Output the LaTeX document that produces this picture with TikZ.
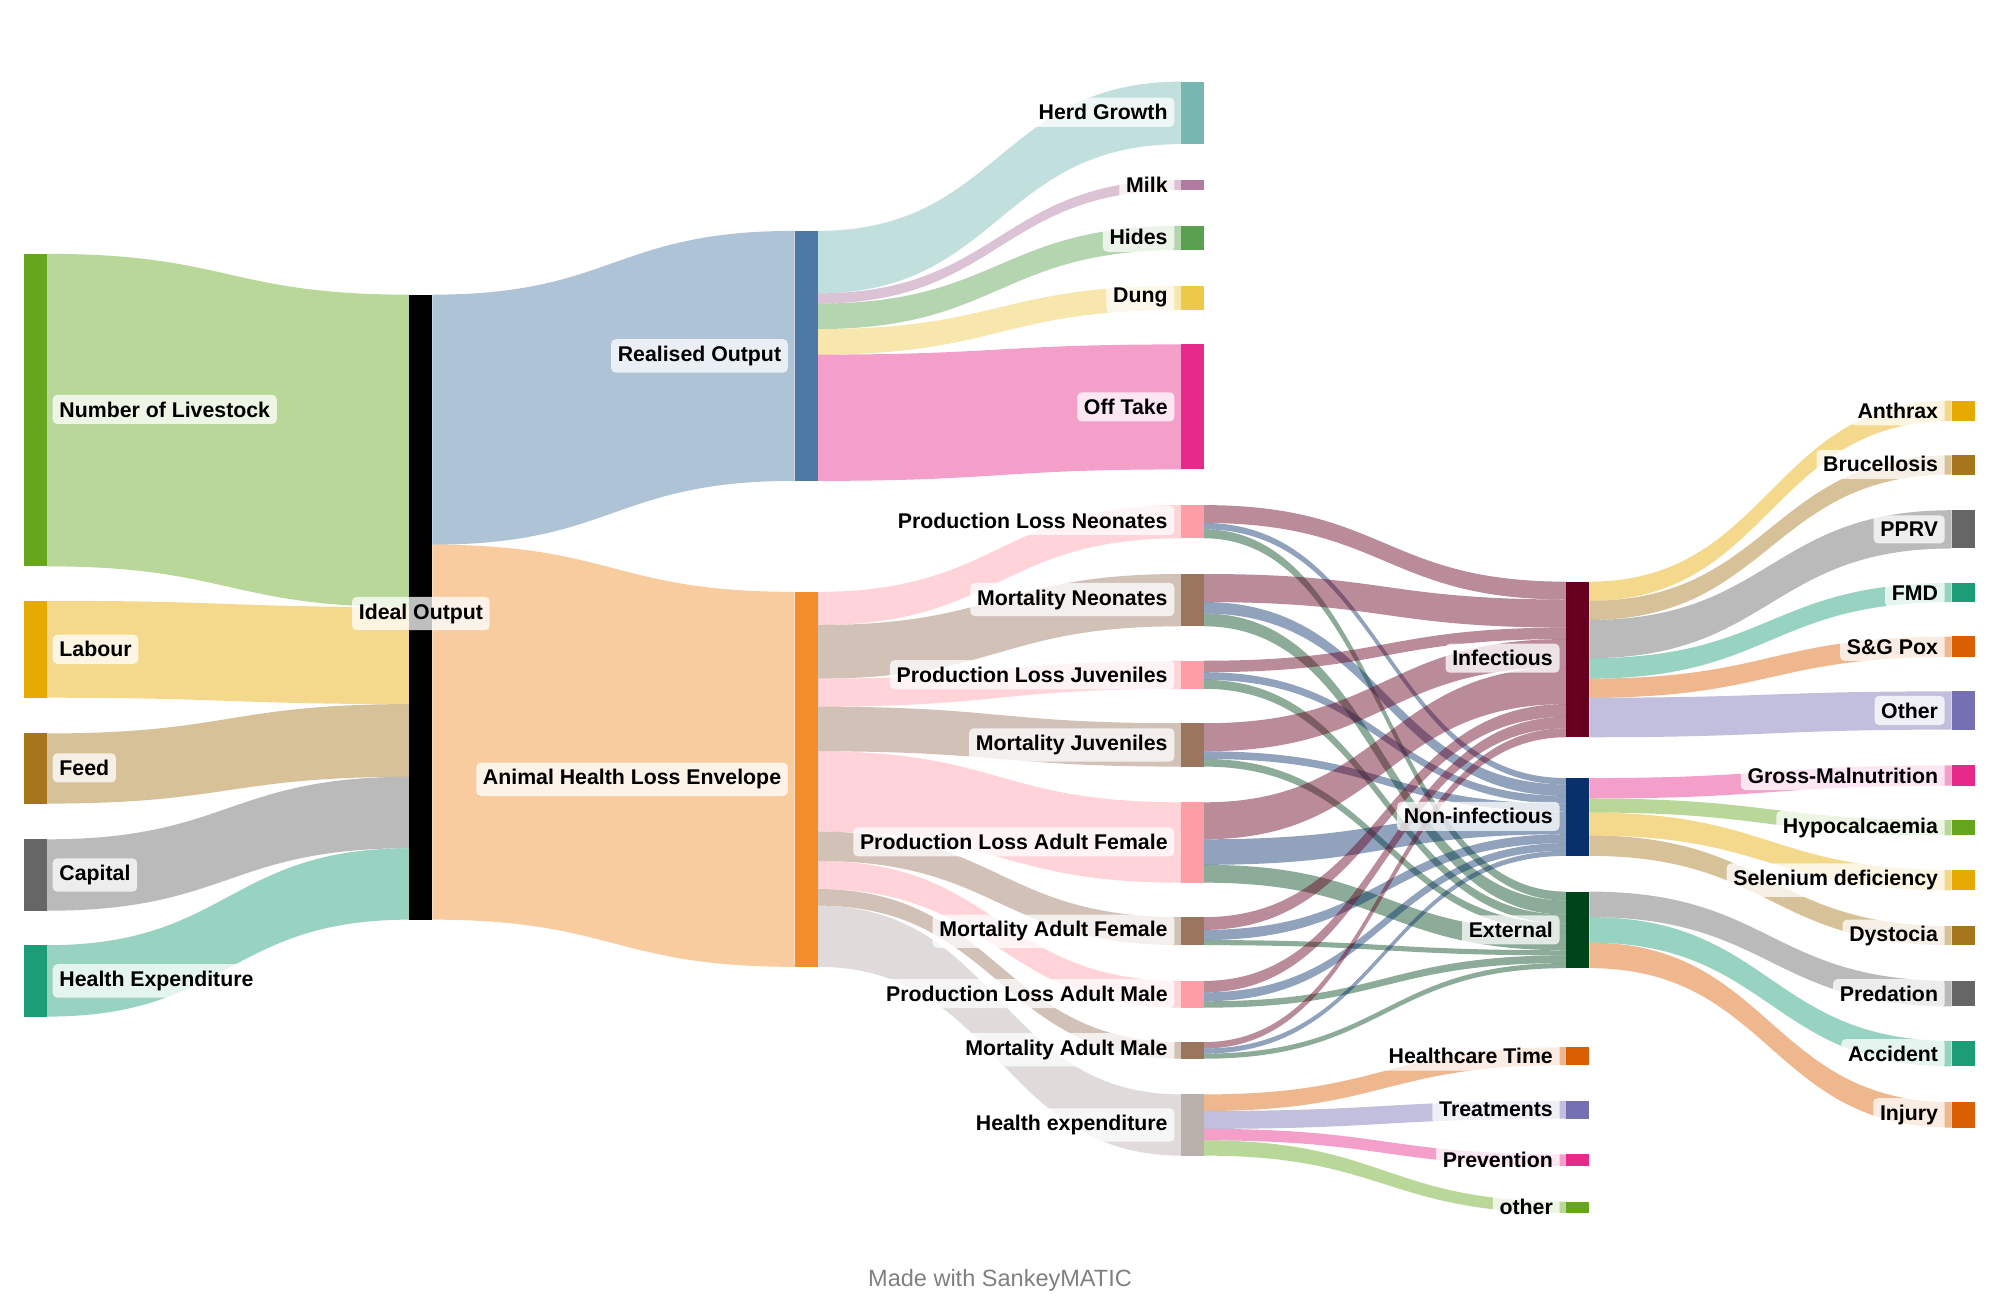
\documentclass[tikz,border=0pt]{standalone}
\usepackage{fontspec}
\setmainfont{Liberation Sans}
\usepackage{xcolor}
\definecolor{cLiv}{HTML}{66A61E}
\definecolor{cLab}{HTML}{E6AB02}
\definecolor{cFeed}{HTML}{A6761D}
\definecolor{cCap}{HTML}{666666}
\definecolor{cHE}{HTML}{1B9E77}
\definecolor{cRO}{HTML}{4E79A7}
\definecolor{cAHLE}{HTML}{F28E2B}
\definecolor{cHG}{HTML}{76B7B2}
\definecolor{cMilk}{HTML}{B07AA1}
\definecolor{cHides}{HTML}{59A14F}
\definecolor{cDung}{HTML}{EDC948}
\definecolor{cOff}{HTML}{E7298A}
\definecolor{cPL}{HTML}{FF9DA7}
\definecolor{cMort}{HTML}{9C755F}
\definecolor{cHx}{HTML}{BAB0AC}
\definecolor{cInf}{HTML}{67001F}
\definecolor{cNI}{HTML}{08306B}
\definecolor{cExt}{HTML}{00441B}
\definecolor{cOr}{HTML}{D95F02}
\definecolor{cPur}{HTML}{7570B3}

\tikzset{
  flowfill/.style={fill opacity=0.45},
  lbl/.style={fill=white, fill opacity=0.75, text opacity=1, rounded corners=2pt,
    inner sep=3pt, font=\fontsize{9.5}{11}\selectfont\bfseries},
}
% band between two bars
\newcommand{\flow}[7]{\fill[#7,flowfill] (#1,#2) .. controls ({(#1+#4)/2},#2) and ({(#1+#4)/2},#5) .. (#4,#5)
  -- (#4,#6) .. controls ({(#1+#4)/2},#6) and ({(#1+#4)/2},#3) .. (#1,#3) -- cycle;}

\begin{document}
\begin{tikzpicture}[x=0.02cm,y=-0.02cm]
\useasboundingbox (0,0) rectangle (1568,1019);
% flows
\foreach \xa/\ya/\yb/\xb/\yc/\yd/\c in {
 37/199/444/321/231/476/cLiv, 37/471/547/321/476/552/cLab, 37/575/630/321/552/609/cFeed,
 37/658/714/321/609/665/cCap, 37/741/797/321/665/721/cHE,
 339/231/427/623/181/377/cRO, 339/427/721/623/464/758/cAHLE,
 641/181/230/926/64/113/cHG, 641/230/238/926/141/149/cMilk, 641/238/258/926/177/196/cHides,
 641/258/278/926/224/243/cDung, 641/278/377/926/270/368/cOff,
 641/464/490/926/396/422/cPL, 641/490/532/926/450/491/cMort, 641/532/554/926/518/540/cPL,
 641/554/589/926/567/601/cMort, 641/589/652/926/629/692/cPL, 641/652/675/926/719/741/cMort,
 641/675/697/926/769/790/cPL, 641/697/710/926/817/830/cMort, 641/710/758/926/858/906/cHx,
 944/396/410/1228/456/470/cInf, 944/410/415/1228/610/615/cNI, 944/415/422/1228/699/706/cExt,
 944/450/472/1228/470/492/cInf, 944/472/481/1228/615/624/cNI, 944/481/491/1228/706/717/cExt,
 944/518/527/1228/492/501/cInf, 944/527/533/1228/624/630/cNI, 944/533/540/1228/717/724/cExt,
 944/567/589/1228/501/523/cInf, 944/589/595/1228/630/636/cNI, 944/595/601/1228/724/730/cExt,
 944/629/658/1228/523/552/cInf, 944/658/678/1228/636/654/cNI, 944/678/692/1228/730/745/cExt,
 944/719/729/1228/552/562/cInf, 944/729/737/1228/654/661/cNI, 944/737/741/1228/745/749/cExt,
 944/769/778/1228/562/571/cInf, 944/778/785/1228/661/667/cNI, 944/785/790/1228/749/755/cExt,
 944/817/822/1228/571/578/cInf, 944/822/826/1228/667/671/cNI, 944/826/830/1228/755/759/cExt,
 944/858/871/1228/821/835/cOr, 944/871/885/1228/863/877/cPur, 944/885/894/1228/905/914/cOff,
 944/894/906/1228/942/951/cLiv,
 1246/456/471/1530/314/330/cLab, 1246/471/486/1530/357/372/cFeed, 1246/486/516/1530/400/430/cCap,
 1246/516/532/1530/457/472/cHE, 1246/532/547/1530/499/515/cOr, 1246/547/578/1530/542/572/cPur,
 1246/610/626/1530/600/616/cOff, 1246/626/637/1530/643/655/cLiv, 1246/637/655/1530/682/698/cLab,
 1246/655/671/1530/726/741/cFeed,
 1246/699/719/1530/769/789/cCap, 1246/719/739/1530/816/836/cHE, 1246/739/759/1530/864/884/cOr}
 {\flow{\xa}{\ya}{\yb}{\xb}{\yc}{\yd}{\c}}
% bars
\foreach \x/\ya/\yb/\c in {
 19/199/444/cLiv, 19/471/547/cLab, 19/575/630/cFeed, 19/658/714/cCap, 19/741/797/cHE,
 321/231/721/black, 623/181/377/cRO, 623/464/758/cAHLE,
 926/64/113/cHG, 926/141/149/cMilk, 926/177/196/cHides, 926/224/243/cDung, 926/270/368/cOff,
 926/396/422/cPL, 926/450/491/cMort, 926/518/540/cPL, 926/567/601/cMort, 926/629/692/cPL,
 926/719/741/cMort, 926/769/790/cPL, 926/817/830/cMort, 926/858/906/cHx,
 1228/456/578/cInf, 1228/610/671/cNI, 1228/699/759/cExt,
 1228/821/835/cOr, 1228/863/877/cPur, 1228/905/914/cOff, 1228/942/951/cLiv,
 1530/314/330/cLab, 1530/357/372/cFeed, 1530/400/430/cCap, 1530/457/472/cHE, 1530/499/515/cOr,
 1530/542/572/cPur, 1530/600/616/cOff, 1530/643/655/cLiv, 1530/682/698/cLab, 1530/726/741/cFeed,
 1530/769/789/cCap, 1530/816/836/cHE, 1530/864/884/cOr}
 {\fill[\c] (\x,\ya) rectangle (\x+18,\yb);}
% labels
\foreach \n/\y/\t in {liv/321/Number of Livestock, lab/509/Labour, feed/602/Feed,
 cap/686/Capital, hexp/769/Health Expenditure}
 {\node[lbl, anchor=west] (\n) at (41,\y) {\t};}
\node[lbl] (ideal) at (330,481) {Ideal Output};
\node[lbl, anchor=east] (real) at (618,279) {Realised Output};
\node[lbl, anchor=east] (ahle) at (618,611) {Animal Health Loss Envelope};
\foreach \n/\x/\y/\t in {
 hg/921/88/Herd Growth, milk/921/145/Milk, hides/921/186/Hides, dung/921/233/Dung, off/921/319/Off Take,
 pln/921/408/Production Loss Neonates, mn/921/470/Mortality Neonates, plj/921/529/Production Loss Juveniles,
 mj/921/584/Mortality Juveniles, plaf/921/660/Production Loss Adult Female, maf/921/730/Mortality Adult Female,
 plam/921/779/Production Loss Adult Male, mam/921/823/Mortality Adult Male, hx/921/882/Health expenditure,
 inf/1223/516/Infectious, ni/1223/640/Non-infectious, ext/1223/729/External,
 ht/1223/828/Healthcare Time, treat/1223/870/Treatments, prev/1223/909/Prevention, oth/1223/946/other,
 anth/1525/322/Anthrax, bruc/1525/364/Brucellosis, pprv/1525/415/PPRV, fmd/1525/465/FMD,
 sgp/1525/507/S\&G Pox, other/1525/557/Other, gm/1525/608/Gross-Malnutrition,
 hypo/1525/649/Hypocalcaemia/hypomag, sel/1525/690/Selenium deficiency, dys/1525/734/Dystocia,
 pred/1525/779/Predation, acc/1525/826/Accident, inj/1525/874/Injury}
 {\node[lbl, anchor=east] (\n) at (\x,\y) {\t};}
\node[text=gray, font=\fontsize{10.5}{12}\selectfont] (made) at (784,1004) {Made with SankeyMATIC};
\end{tikzpicture}
\end{document}
